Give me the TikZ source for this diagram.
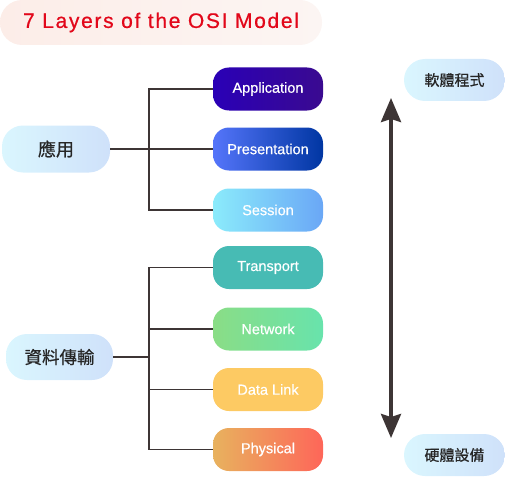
\documentclass[tikz,border=0pt]{standalone}
\usepackage{fontspec}
\setmainfont{Liberation Sans}
\newfontfamily\latinfont[FakeBold=0.5]{Liberation Sans}
\newfontfamily\titlefont[FakeBold=0.6,LetterSpace=8]{Liberation Sans}
\newfontfamily\cjkfont[FakeBold=0.6]{Noto Sans CJK TC}
\usetikzlibrary{arrows.meta}
\definecolor{titlered}{HTML}{E2071A}
\definecolor{titlebgL}{HTML}{FCEDE8}
\definecolor{titlebgR}{HTML}{FCF5F3}
\definecolor{sideL}{HTML}{DAF6FE}
\definecolor{sideR}{HTML}{CFE1FA}
\definecolor{appL}{HTML}{2A00B6}
\definecolor{appR}{HTML}{3A0A90}
\definecolor{presL}{HTML}{5575FA}
\definecolor{presR}{HTML}{0036A2}
\definecolor{sessL}{HTML}{8BEBFB}
\definecolor{sessR}{HTML}{6AA7F6}
\definecolor{transC}{HTML}{47BBB4}
\definecolor{netL}{HTML}{8ADD86}
\definecolor{netR}{HTML}{68E3AC}
\definecolor{dlC}{HTML}{FDCA63}
\definecolor{physL}{HTML}{E8B25E}
\definecolor{physR}{HTML}{FE6659}
\definecolor{linec}{HTML}{3D3535}
\tikzset{
  layer/.style={rectangle, rounded corners=16pt, minimum width=110pt, minimum height=43pt,
    inner sep=0pt, text=white, font=\latinfont\fontsize{14.5}{15}\selectfont},
  side/.style={rectangle, rounded corners=21pt, inner sep=0pt, left color=sideL, right color=sideR,
    text=black!85},
  conn/.style={draw=linec, line width=1.3pt},
}
\begin{document}
\begin{tikzpicture}[x=1pt,y=-1pt]
\useasboundingbox (0,0) rectangle (505,476);
\node[rectangle, rounded corners=22pt, left color=titlebgL, right color=titlebgR, minimum width=322pt, minimum height=45pt, inner sep=0pt,
  text=titlered, font=\titlefont\fontsize{21}{22}\selectfont] (title) at (161,22.5) {7 Layers of the OSI Model};

\node[layer, left color=appL, right color=appR] (app) at (268,89) {Application};
\node[layer, left color=presL, right color=presR] (pres) at (268,149) {Presentation};
\node[layer, left color=sessL, right color=sessR] (sess) at (268,210) {Session};
\node[layer, fill=transC] (trans) at (268,267.5) {Transport};
\node[layer, left color=netL, right color=netR] (net) at (268,329) {Network};
\node[layer, fill=dlC] (dl) at (268,389.5) {Data Link};
\node[layer, left color=physL, right color=physR] (phys) at (268,449.5) {Physical};

\node[side, minimum width=108pt, minimum height=47pt, font=\cjkfont\fontsize{18}{19}\selectfont] (upper) at (56,149) {應用};
\node[side, minimum width=107pt, minimum height=46pt, font=\cjkfont\fontsize{17.5}{19}\selectfont] (lower) at (59.5,357) {資料傳輸};
\node[side, minimum width=101pt, minimum height=42pt, font=\cjkfont\fontsize{15}{16}\selectfont] (soft) at (454.5,80) {軟體程式};
\node[side, minimum width=101pt, minimum height=42pt, font=\cjkfont\fontsize{15}{16}\selectfont] (hard) at (454.5,455) {硬體設備};

\coordinate (bx) at (149,0);
\draw[conn] (app.west) -- (app.west -| bx) |- (sess.west);
\draw[conn] (upper.east) -- (pres.west);
\draw[conn] (trans.west) -- (trans.west -| bx) |- (phys.west);
\draw[conn] (net.west) -- (net.west -| bx);
\draw[conn] (dl.west) -- (dl.west -| bx);
\draw[conn] (lower.east) -- (lower.east -| bx);

\coordinate (atop) at (391,98);
\coordinate (abot) at (391,438);
\draw[draw=linec, line width=3.5pt, {Stealth[width=20pt,length=24pt,inset=3pt]}-{Stealth[width=20pt,length=24pt,inset=3pt]}] (atop) -- (abot);
\end{tikzpicture}
\end{document}
